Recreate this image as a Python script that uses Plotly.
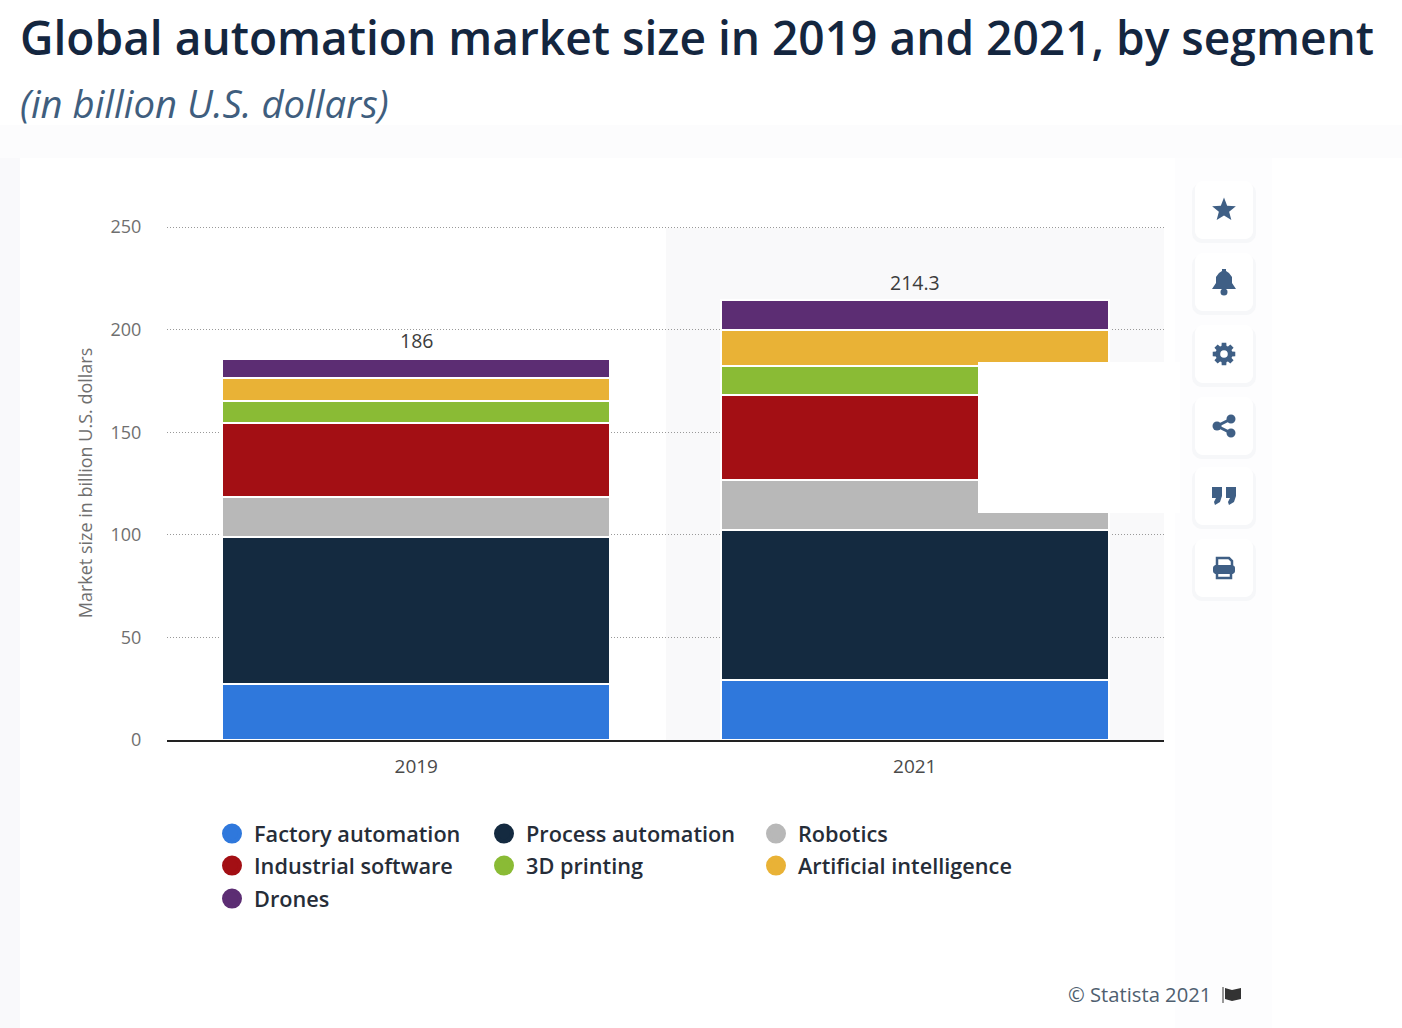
import math
import plotly.graph_objects as go

W, H = 1402, 1028
years = ["2019", "2021"]
segments = ["Factory automation", "Process automation", "Robotics", "Industrial software",
            "3D printing", "Artificial intelligence", "Drones"]
factory = [27.3, 29.2]
process = [71.6, 73.1]
robotics = [19.5, 24.4]
industrial = [36.0, 41.4]
printing = [10.7, 14.2]
ai = [11.2, 17.5]
drones = [9.6, 14.5]
totals = [186, 214.3]
total_labels = ["186", "214.3"]
colors = ["#2f78dc", "#142a40", "#b8b8b8", "#a30f14", "#8abb35", "#e9b236", "#5c2d73"]
series = [factory, process, robotics, industrial, printing, ai, drones]
legend_rows = ["legend", "legend", "legend", "legend2", "legend2", "legend2", "legend3"]

FONT = "Open Sans"
TXT = "#4a4a4a"
def X(p): return p / W
def Y(p): return 1 - p / H

def rect(x0, y0, x1, y1, fill, layer="below"):
    return dict(type="rect", xref="paper", yref="paper", x0=X(x0), x1=X(x1), y0=Y(y0), y1=Y(y1),
                fillcolor=fill, line=dict(width=0), layer=layer)

def poly(pts, fill="#3f5f85", layer="above", closed=True, line=0):
    d = "M" + " L".join(f"{X(a):.5f},{Y(b):.5f}" for a, b in pts) + (" Z" if closed else "")
    return dict(type="path", xref="paper", yref="paper", path=d, fillcolor=fill if closed else "rgba(0,0,0,0)",
                line=dict(width=line, color=fill), layer=layer)

def circle(cx, cy, r, fill="#3f5f85", layer="above"):
    return dict(type="circle", xref="paper", yref="paper", x0=X(cx - r), x1=X(cx + r), y0=Y(cy + r), y1=Y(cy - r),
                fillcolor=fill, line=dict(width=0), layer=layer)

def round_pts(x0, y0, x1, y1, r):
    out = []
    for cx, cy, a0 in [(x1 - r, y0 + r, -90), (x1 - r, y1 - r, 0), (x0 + r, y1 - r, 90), (x0 + r, y0 + r, 180)]:
        for k in range(7):
            a = math.radians(a0 + 15 * k)
            out.append((cx + r * math.cos(a), cy + r * math.sin(a)))
    return out

fig = go.Figure()
for name, vals, col in zip(segments, series, colors):
    fig.add_trace(go.Bar(x=years, y=vals, name=name, marker=dict(color=col, line=dict(color="white", width=2)),
                         showlegend=False, hoverinfo="skip"))
# legend entries use circular markers, one legend per row
for name, col, row in zip(segments, colors, legend_rows):
    fig.add_trace(go.Scatter(x=[None], y=[None], mode="markers", name=name, legend=row,
                             marker=dict(color=col, size=16, symbol="circle", line=dict(color=col, width=4))))

shapes = [
    rect(0, 125, W, 158, "#fcfcfd"),
    rect(0, 158, 20, H, "#f9f9fb"),
    rect(20, 158, 1272, H, "#ffffff"),
    rect(1175, 158, 1272, H, "#fdfdfe"),
    rect(666, 228, 1164, 740, "#f9f9fa"),
    rect(978, 362, 1180, 513, "#ffffff", "above"),
]
tops = [181, 253, 325, 397, 467, 539]
for t in tops:
    shapes.append(poly(round_pts(1192, t + 2, 1256, t + 62, 10), "#f6f7f9", "below"))
    shapes.append(poly(round_pts(1195, t, 1253, t + 58, 8), "#ffffff", "below"))
cx = 1224
# star
cy = tops[0] + 29
shapes.append(poly([(cx + (12.5 if k % 2 == 0 else 5.4) * math.sin(k * math.pi / 5),
                     cy - (12.5 if k % 2 == 0 else 5.4) * math.cos(k * math.pi / 5)) for k in range(10)]))
# bell
cy = tops[1] + 29
shapes.append(poly([(cx - 12, cy + 7), (cx - 8, cy + 1), (cx - 8, cy - 5), (cx - 5, cy - 9), (cx - 2, cy - 11),
                    (cx - 2, cy - 13), (cx + 2, cy - 13), (cx + 2, cy - 11), (cx + 5, cy - 9), (cx + 8, cy - 5),
                    (cx + 8, cy + 1), (cx + 12, cy + 7)]))
shapes.append(circle(cx, cy + 10, 3.5))
# gear
cy = tops[2] + 29
gear = []
for k in range(8):
    a = k * math.pi / 4
    for da, r in [(-0.3, 8.5), (-0.2, 11.5), (0.2, 11.5), (0.3, 8.5)]:
        gear.append((cx + r * math.cos(a + da), cy + r * math.sin(a + da)))
shapes.append(poly(gear))
shapes.append(circle(cx, cy, 3.8, "#ffffff"))
# share
cy = tops[3] + 29
shapes.append(poly([(cx + 7, cy - 7), (cx - 7, cy), (cx + 7, cy + 7)], closed=False, line=3))
shapes += [circle(cx + 7, cy - 7, 4.5), circle(cx - 7, cy, 4.5), circle(cx + 7, cy + 7, 4.5)]
# quotes
cy = tops[4] + 29
for dx in (-12, 2):
    shapes.append(poly([(cx + dx, cy - 9), (cx + dx + 10, cy - 9), (cx + dx + 10, cy), (cx + dx + 8, cy + 6),
                        (cx + dx + 3, cy + 9), (cx + dx + 2, cy + 6), (cx + dx + 4, cy + 2), (cx + dx, cy + 2)]))
# printer
cy = tops[5] + 29
shapes.append(poly([(cx - 7, cy - 3), (cx - 7, cy - 10), (cx + 5, cy - 10), (cx + 8, cy - 7), (cx + 8, cy - 3)],
                   closed=False, line=2.5))
shapes.append(poly(round_pts(cx - 11, cy - 3, cx + 11, cy + 6, 3)))
shapes.append(poly([(cx - 7, cy + 4), (cx - 7, cy + 10), (cx + 7, cy + 10), (cx + 7, cy + 4)], closed=False, line=2.5))
# flag
shapes.append(poly([(1223, 987), (1223, 1003)], "#333333", closed=False, line=1))
shapes.append(poly([(1225, 988), (1232, 990), (1241, 988), (1241, 999), (1232, 1001), (1225, 999)], "#333333"))

annotations = [
    dict(text="Global automation market size in 2019 and 2021, by segment", x=X(18), y=Y(37.5), xref="paper", yref="paper",
         xanchor="left", yanchor="middle", showarrow=False, font=dict(family=FONT, size=46.1, weight=600, color="#14263f")),
    dict(text="<i>(in billion U.S. dollars)</i>", x=X(18), y=Y(103), xref="paper", yref="paper",
         xanchor="left", yanchor="middle", showarrow=False, font=dict(family=FONT, size=38.3, color="#3f5e7e")),
    dict(text="© Statista 2021", x=X(1213), y=Y(994), xref="paper", yref="paper", xanchor="right", yanchor="middle",
         showarrow=False, font=dict(family=FONT, size=20.2, color="#4f5f70")),
]
# on a category axis a numeric-looking string is read as an index, so the totals use positions
for i, (tot, lab) in enumerate(zip(totals, total_labels)):
    annotations.append(dict(text=lab, x=i, y=tot, xref="x", yref="y", yanchor="middle", yshift=18, showarrow=False,
                            font=dict(family=FONT, size=19.5, color="#3c3c3c")))

def legend_row(top):
    return dict(orientation="h", x=X(210), y=Y(top), xanchor="left", yanchor="top", entrywidth=223, entrywidthmode="pixels",
                itemwidth=34, bgcolor="rgba(0,0,0,0)", traceorder="normal",
                font=dict(family=FONT, size=21.7, weight=600, color="#262d38"))

fig.update_layout(
    width=W, height=H, margin=dict(l=0, r=0, t=0, b=0, autoexpand=False), paper_bgcolor="white", plot_bgcolor="rgba(0,0,0,0)",
    barmode="stack", bargap=0.222, shapes=shapes, annotations=annotations,
    font=dict(family=FONT, color=TXT),
    xaxis=dict(domain=[X(167), X(1164)], type="category", categoryorder="array", categoryarray=years, range=[-0.5, 1.5],
               showgrid=False, showline=True, linecolor="#222222", linewidth=1.5, ticks="outside", ticklen=8,
               tickcolor="rgba(0,0,0,0)", tickfont=dict(family=FONT, size=19, color=TXT), anchor="y"),
    yaxis=dict(domain=[Y(740), Y(226)], range=[0, 250.5], tickvals=[0, 50, 100, 150, 200, 250],
               showgrid=True, gridcolor="#999999", griddash="1px,2px", gridwidth=1, zeroline=False,
               ticks="outside", ticklen=21, tickcolor="rgba(0,0,0,0)", tickfont=dict(family=FONT, size=18, color="#6f6f6f"),
               title=dict(text="Market size in billion U.S. dollars", font=dict(family=FONT, size=18, color="#6f6f6f"), standoff=13),
               anchor="x"),
    legend=legend_row(813), legend2=legend_row(845), legend3=legend_row(878),
)
fig.write_html("out.html", config={"displayModeBar": False}, post_script="document.body.style.margin='0';")
